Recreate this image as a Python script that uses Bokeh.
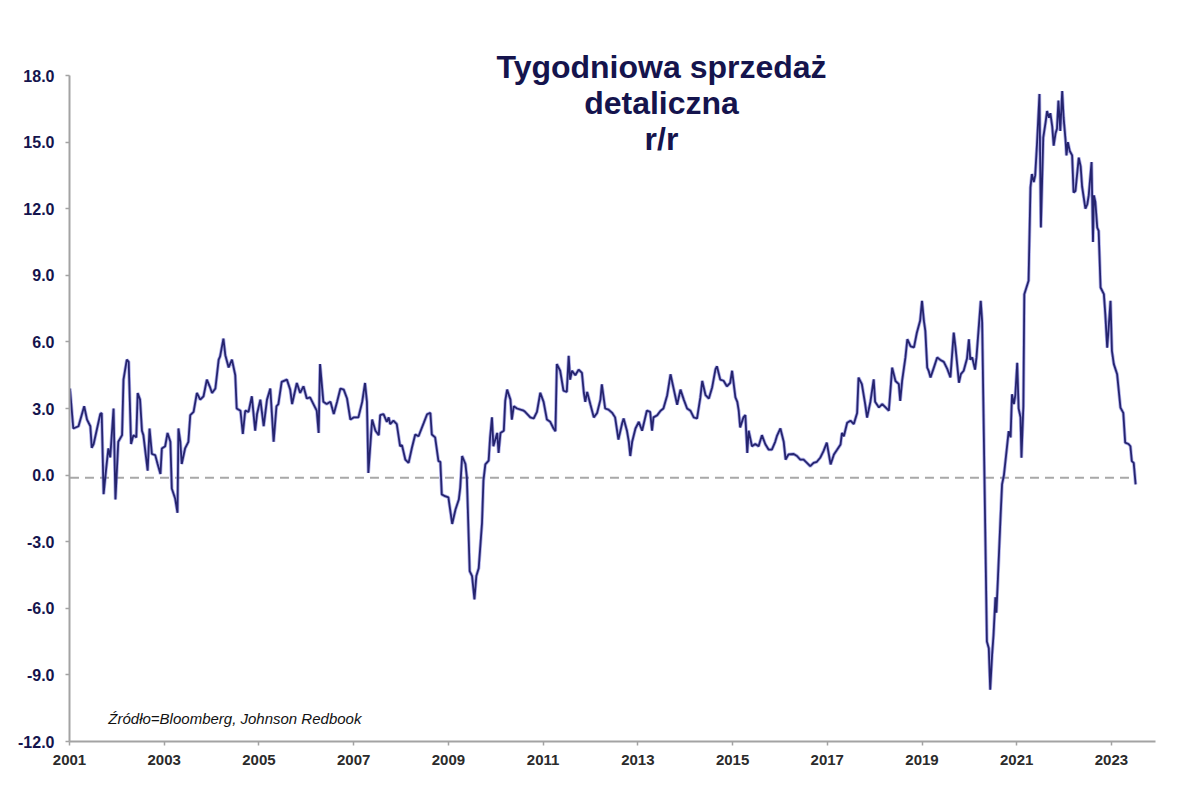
from bokeh.plotting import figure
from bokeh.models import Label, FixedTicker, NumeralTickFormatter, Range1d
from bokeh.embed import file_html
from bokeh.resources import INLINE

# ---- data ----
dates = [
    2001.01, 2001.08, 2001.19, 2001.31, 2001.37, 2001.44, 2001.47, 2001.51, 2001.65, 2001.68,
    2001.72, 2001.77, 2001.82, 2001.86, 2001.93, 2001.97, 2002.03, 2002.11, 2002.14, 2002.21,
    2002.25, 2002.30, 2002.35, 2002.41, 2002.44, 2002.49, 2002.53, 2002.56, 2002.65, 2002.69,
    2002.74, 2002.81, 2002.86, 2002.92, 2002.95, 2003.02, 2003.07, 2003.13, 2003.16, 2003.23,
    2003.28, 2003.30, 2003.34, 2003.37, 2003.44, 2003.51, 2003.55, 2003.62, 2003.69, 2003.76,
    2003.83, 2003.90, 2003.96, 2004.01, 2004.08, 2004.15, 2004.18, 2004.25, 2004.29, 2004.36,
    2004.43, 2004.50, 2004.53, 2004.61, 2004.66, 2004.71, 2004.78, 2004.85, 2004.92, 2004.96,
    2005.03, 2005.10, 2005.17, 2005.24, 2005.31, 2005.37, 2005.41, 2005.48, 2005.59, 2005.66,
    2005.70, 2005.80, 2005.87, 2005.94, 2006.01, 2006.08, 2006.15, 2006.22, 2006.26, 2006.29,
    2006.36, 2006.43, 2006.51, 2006.58, 2006.65, 2006.72, 2006.79, 2006.86, 2006.93, 2007.00,
    2007.10, 2007.18, 2007.24, 2007.28, 2007.31, 2007.39, 2007.46, 2007.53, 2007.56, 2007.63,
    2007.70, 2007.74, 2007.77, 2007.84, 2007.91, 2007.98, 2008.02, 2008.09, 2008.16, 2008.23,
    2008.30, 2008.37, 2008.48, 2008.55, 2008.62, 2008.65, 2008.72, 2008.79, 2008.83, 2008.86,
    2008.93, 2009.00, 2009.08, 2009.15, 2009.22, 2009.25, 2009.29, 2009.36, 2009.39, 2009.45,
    2009.50, 2009.55, 2009.59, 2009.64, 2009.71, 2009.74, 2009.78, 2009.85, 2009.88, 2009.92,
    2009.95, 2010.03, 2010.06, 2010.10, 2010.17, 2010.20, 2010.24, 2010.31, 2010.34, 2010.38,
    2010.45, 2010.59, 2010.62, 2010.73, 2010.80, 2010.87, 2010.94, 2011.01, 2011.08, 2011.15,
    2011.22, 2011.26, 2011.29, 2011.36, 2011.43, 2011.50, 2011.54, 2011.57, 2011.61, 2011.68,
    2011.75, 2011.82, 2011.86, 2011.89, 2011.93, 2012.00, 2012.07, 2012.14, 2012.21, 2012.24,
    2012.31, 2012.38, 2012.46, 2012.52, 2012.59, 2012.67, 2012.70, 2012.77, 2012.81, 2012.84,
    2012.88, 2012.95, 2013.02, 2013.09, 2013.19, 2013.26, 2013.30, 2013.33, 2013.41, 2013.48,
    2013.54, 2013.62, 2013.69, 2013.76, 2013.83, 2013.90, 2013.97, 2014.04, 2014.11, 2014.18,
    2014.25, 2014.32, 2014.36, 2014.43, 2014.50, 2014.57, 2014.64, 2014.67, 2014.74, 2014.81,
    2014.88, 2014.95, 2014.99, 2015.06, 2015.10, 2015.13, 2015.16, 2015.23, 2015.27, 2015.31,
    2015.34, 2015.41, 2015.48, 2015.55, 2015.62, 2015.69, 2015.76, 2015.83, 2015.90, 2015.94,
    2016.01, 2016.08, 2016.12, 2016.18, 2016.29, 2016.36, 2016.43, 2016.50, 2016.57, 2016.64,
    2016.71, 2016.78, 2016.85, 2016.92, 2016.99, 2017.07, 2017.14, 2017.21, 2017.28, 2017.31,
    2017.35, 2017.42, 2017.49, 2017.56, 2017.63, 2017.66, 2017.73, 2017.80, 2017.84, 2017.91,
    2017.98, 2018.01, 2018.09, 2018.16, 2018.23, 2018.30, 2018.37, 2018.44, 2018.51, 2018.54,
    2018.58, 2018.65, 2018.69, 2018.76, 2018.83, 2018.89, 2018.96, 2019.00, 2019.04, 2019.07,
    2019.11, 2019.14, 2019.18, 2019.25, 2019.32, 2019.38, 2019.46, 2019.53, 2019.60, 2019.67,
    2019.71, 2019.78, 2019.82, 2019.88, 2019.95, 2019.99, 2020.02, 2020.06, 2020.12, 2020.15,
    2020.24, 2020.27, 2020.37, 2020.41, 2020.44, 2020.48, 2020.51, 2020.55, 2020.57, 2020.60,
    2020.66, 2020.69, 2020.73, 2020.80, 2020.83, 2020.87, 2020.90, 2020.94, 2020.97, 2021.01,
    2021.04, 2021.08, 2021.10, 2021.14, 2021.16, 2021.25, 2021.29, 2021.32, 2021.36, 2021.39,
    2021.43, 2021.48, 2021.51, 2021.56, 2021.61, 2021.64, 2021.68, 2021.71, 2021.75, 2021.78,
    2021.82, 2021.85, 2021.88, 2021.92, 2021.96, 2021.99, 2022.03, 2022.05, 2022.08, 2022.12,
    2022.17, 2022.20, 2022.24, 2022.31, 2022.35, 2022.38, 2022.45, 2022.49, 2022.52, 2022.58,
    2022.61, 2022.63, 2022.66, 2022.70, 2022.73, 2022.77, 2022.84, 2022.87, 2022.91, 2022.94,
    2022.98, 2023.01, 2023.05, 2023.12, 2023.19, 2023.25, 2023.29, 2023.36, 2023.40, 2023.43,
    2023.47, 2023.51,
]
values = [
    3.9, 2.1, 2.2, 3.1, 2.5, 2.2, 1.23, 1.4, 2.75, 2.8,
    -0.86, 0.2, 1.2, 0.8, 3.0, -1.1, 1.5, 1.8, 4.3, 5.2,
    5.1, 1.4, 1.8, 1.7, 3.7, 3.4, 2.0, 1.8, 0.2, 2.1,
    0.95, 0.9, 0.5, 0.05, 1.2, 1.3, 1.9, 1.5, -0.6, -1.05,
    -1.7, 2.1, 1.5, 0.5, 1.2, 1.5, 2.7, 2.85, 3.7, 3.4,
    3.55, 4.3, 4.0, 3.7, 3.9, 5.2, 5.35, 6.15, 5.4, 4.85,
    5.2, 4.5, 3.0, 2.9, 1.85, 2.9, 2.85, 3.55, 2.0, 2.75,
    3.4, 2.2, 3.4, 3.9, 1.5, 3.1, 3.2, 4.2, 4.3, 3.85,
    3.2, 4.15, 3.7, 4.0, 3.45, 3.5, 3.2, 2.9, 1.9, 5.0,
    3.3, 3.2, 3.3, 2.75, 3.3, 3.9, 3.85, 3.45, 2.5, 2.6,
    2.6, 3.3, 4.15, 3.3, 0.1, 2.5, 2.0, 1.8, 2.7, 2.75,
    2.4, 2.6, 2.3, 2.45, 2.3, 1.3, 1.35, 0.7, 0.55, 1.23,
    1.83, 1.75, 2.35, 2.74, 2.8, 1.83, 1.7, 0.63, 0.6, -0.87,
    -0.95, -1.0, -2.2, -1.55, -1.1, -0.57, 0.86, 0.5, -0.1, -4.33,
    -4.55, -5.6, -4.55, -4.2, -2.15, -0.25, 0.48, 0.65, 1.68, 2.6,
    1.3, 1.9, 1.0, 1.9, 2.0, 3.34, 3.85, 3.4, 2.5, 3.1,
    3.0, 2.9, 2.85, 2.6, 2.55, 2.85, 3.71, 3.3, 2.5, 2.4,
    2.1, 1.98, 5.0, 4.7, 3.8, 3.75, 5.37, 4.3, 4.7, 4.5,
    4.75, 4.6, 3.7, 3.3, 3.75, 3.17, 2.6, 2.8, 3.4, 4.09,
    3.0, 2.95, 2.8, 2.6, 1.6, 2.35, 2.55, 2.0, 1.5, 0.86,
    1.5, 2.1, 2.4, 2.0, 2.9, 2.85, 2.0, 2.6, 2.7, 2.9,
    3.0, 3.6, 4.54, 3.85, 3.17, 3.85, 3.4, 3.0, 2.9, 2.6,
    2.55, 3.5, 4.24, 3.6, 3.45, 3.96, 4.77, 4.9, 4.3, 4.25,
    4.0, 4.15, 4.7, 3.5, 3.3, 2.9, 2.15, 2.6, 2.7, 1.0,
    2.0, 1.3, 1.4, 1.3, 1.8, 1.4, 1.15, 1.15, 1.5, 1.78,
    2.1, 1.5, 0.7, 0.93, 0.95, 0.86, 0.7, 0.7, 0.55, 0.4,
    0.55, 0.6, 0.78, 1.08, 1.46, 0.48, 0.93, 1.15, 1.38, 1.9,
    1.75, 2.36, 2.45, 2.3, 2.8, 4.39, 4.1, 3.2, 2.59, 3.3,
    4.31, 3.3, 3.05, 3.2, 3.05, 2.9, 4.84, 4.24, 4.1, 3.34,
    4.24, 5.3, 6.12, 5.8, 5.75, 6.4, 6.95, 7.85, 6.95, 6.5,
    4.84, 4.7, 4.4, 4.84, 5.3, 5.2, 5.1, 4.8, 4.4, 6.42,
    5.7, 4.16, 4.55, 4.7, 5.25, 6.12, 5.2, 5.3, 4.75, 5.3,
    7.85, 6.9, -7.5, -7.8, -9.67, -8.1, -7.2, -5.5, -6.2, -4.8,
    -1.8, -0.42, 0.0, 1.38, 1.98, 1.7, 3.64, 3.2, 3.6, 5.06,
    3.0, 2.6, 0.78, 3.1, 8.15, 8.75, 12.96, 13.56, 13.2, 13.5,
    15.0, 17.17, 11.15, 15.2, 15.9, 16.4, 16.1, 16.3, 15.7, 14.84,
    15.4, 15.6, 16.87, 15.5, 17.3, 16.1, 15.1, 14.4, 15.0, 14.6,
    14.4, 12.73, 12.8, 14.3, 13.9, 13.0, 12.0, 12.2, 12.6, 14.1,
    10.5, 12.6, 12.3, 11.15, 11.0, 8.45, 8.15, 7.25, 5.74, 6.6,
    7.85, 5.6, 5.0, 4.54, 3.04, 2.8, 1.46, 1.4, 1.3, 0.63,
    0.55, -0.42,
]
zero_level = -0.12
y_ticks = [-12, -9, -6, -3, 0, 3, 6, 9, 12, 15, 18]
x_ticks = [2001, 2003, 2005, 2007, 2009, 2011, 2013, 2015, 2017, 2019, 2021, 2023]
title_lines = ["Tygodniowa sprzedaż", "detaliczna", "r/r"]
source_text = "Źródło=Bloomberg, Johnson Redbook"

NAVY = "#15144d"
FONT = "Liberation Sans"

# layout: the frame extends above the 18.0 tick so the title can sit inside it;
# the y axis line is bounded to the tick range.
W, H = 1184, 794
B_LEFT, B_RIGHT, B_TOP, B_BOTTOM = 69, 29, 31, 53
frame_h = H - B_TOP - B_BOTTOM
axis_px = 666  # pixel height of the -12..18 span
y_top = y_ticks[0] + (y_ticks[-1] - y_ticks[0]) * frame_h / axis_px

p = figure(width=W, height=H, output_backend="svg", toolbar_location=None,
           x_range=Range1d(2001.0, 2023.93), y_range=Range1d(y_ticks[0], y_top),
           min_border_left=B_LEFT, min_border_right=B_RIGHT,
           min_border_top=B_TOP, min_border_bottom=B_BOTTOM)
p.outline_line_color = None
p.background_fill_color = "white"
p.border_fill_color = "white"
p.xgrid.visible = False
p.ygrid.visible = False

# zero dashed line
p.line(x=[dates[0], dates[-1]], y=[zero_level, zero_level], line_color="#a8a8a8",
       line_width=2, line_dash="9 6")

# series
p.line(x=dates, y=values, line_color="#6a6ad6", line_width=3.4, line_alpha=0.55)
p.line(x=dates, y=values, line_color="#25246e", line_width=1.8)

for ax in (p.xaxis[0], p.yaxis[0]):
    ax.axis_line_color = "#a3a3a3"
    ax.axis_line_width = 2
    ax.major_tick_line_color = "#a3a3a3"
    ax.major_tick_line_width = 1.5
    ax.major_tick_in = 0
    ax.major_tick_out = 4
    ax.minor_tick_line_color = None
    ax.major_label_text_font = FONT
    ax.major_label_text_font_style = "bold"

p.yaxis.bounds = (y_ticks[0], y_ticks[-1])
p.yaxis.ticker = FixedTicker(ticks=y_ticks)
p.yaxis.formatter = NumeralTickFormatter(format="0.0")
p.yaxis.major_label_text_color = NAVY
p.yaxis.major_label_text_font_size = "16px"
p.yaxis.major_label_standoff = 11

p.xaxis.ticker = FixedTicker(ticks=x_ticks)
p.xaxis.formatter = NumeralTickFormatter(format="0")
p.xaxis.major_label_text_color = "#2b2b2b"
p.xaxis.major_label_text_font_size = "15px"
p.xaxis.major_label_standoff = 9

title_y = [18.38, 16.76, 15.16]
for txt, ty in zip(title_lines, title_y):
    p.add_layout(Label(x=2013.5, y=ty, text=txt, text_align="center",
                       text_baseline="alphabetic", text_font=FONT, text_font_style="bold",
                       text_font_size="32px", text_color=NAVY))

p.add_layout(Label(x=2001.82, y=-10.95, text=source_text, text_align="left",
                   text_baseline="alphabetic", text_font=FONT, text_font_style="italic",
                   text_font_size="15px", text_color="#111111"))

open("out.html", "w").write(file_html(p, INLINE))
